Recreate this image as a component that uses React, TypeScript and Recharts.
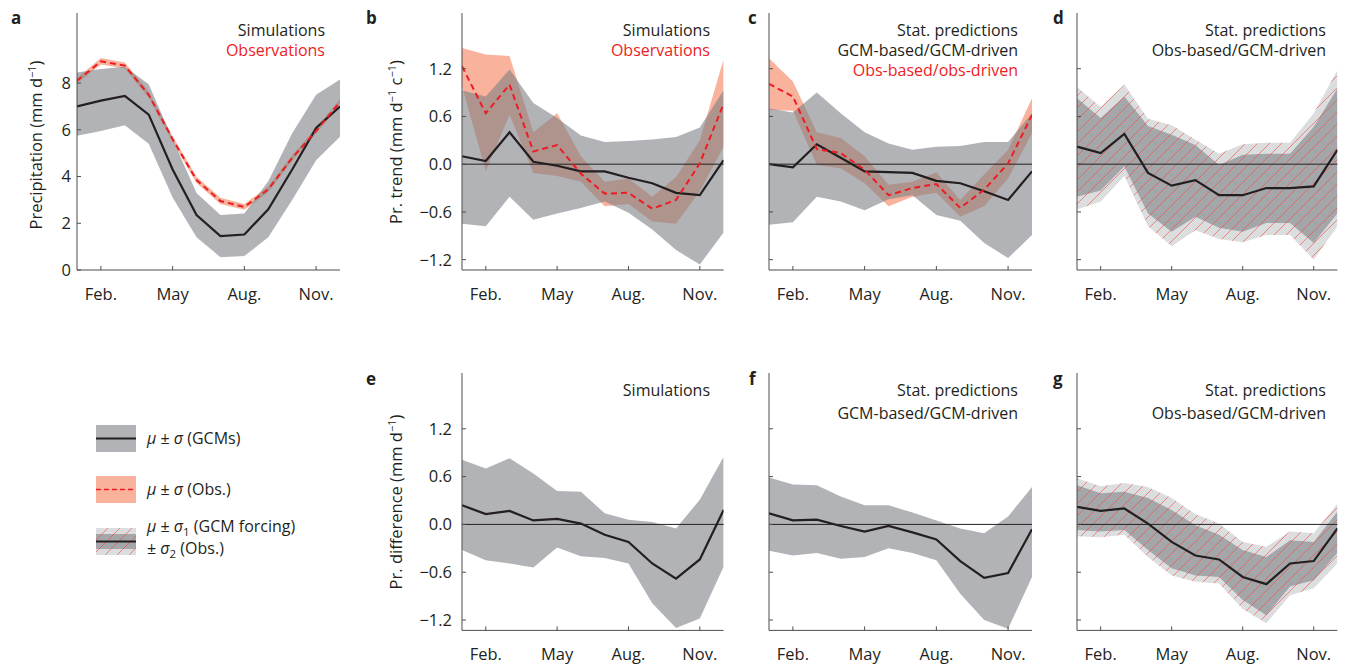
import React from 'react';
import { ComposedChart, Area, Line, XAxis, YAxis, ReferenceLine } from 'recharts';

const months = [1, 2, 3, 4, 5, 6, 7, 8, 9, 10, 11, 12];
const monthTicks = [2, 5, 8, 11];
const monthNames: Record<number, string> = { 2: 'Feb.', 5: 'May', 8: 'Aug.', 11: 'Nov.' };
const precipTicks = [0, 2, 4, 6, 8];
const trendTicks = [-1.2, -0.6, 0, 0.6, 1.2];

// a: climatology
const aSimMean = [7.0, 7.25, 7.45, 6.65, 4.3, 2.35, 1.45, 1.52, 2.6, 4.3, 6.08, 7.0];
const aSimHi = [8.45, 8.6, 8.7, 7.95, 5.6, 3.3, 2.35, 2.42, 3.8, 5.85, 7.5, 8.15];
const aSimLo = [5.75, 5.95, 6.2, 5.4, 3.1, 1.4, 0.55, 0.6, 1.4, 3.0, 4.7, 5.7];
const aObsMean = [8.1, 8.93, 8.75, 7.5, 5.6, 3.85, 2.95, 2.7, 3.45, 4.8, 5.95, 7.2];
const aObsHi = [8.22, 9.07, 8.88, 7.63, 5.73, 3.99, 3.09, 2.82, 3.57, 4.92, 6.07, 7.32];
const aObsLo = [7.98, 8.8, 8.62, 7.37, 5.47, 3.72, 2.82, 2.58, 3.33, 4.68, 5.83, 7.08];

// b: trends, simulations vs observations
const bSimMean = [0.1, 0.04, 0.4, 0.03, -0.02, -0.09, -0.09, -0.17, -0.24, -0.36, -0.39, 0.05];
const bSimHi = [0.93, 0.85, 1.19, 0.77, 0.58, 0.36, 0.28, 0.29, 0.31, 0.34, 0.46, 0.93];
const bSimLo = [-0.75, -0.78, -0.41, -0.7, -0.62, -0.55, -0.47, -0.61, -0.82, -1.08, -1.26, -0.86];
const bObsMean = [1.23, 0.64, 1.0, 0.16, 0.24, -0.12, -0.37, -0.36, -0.56, -0.45, 0.01, 0.76];
const bObsHi = [1.46, 1.38, 1.36, 0.4, 0.64, 0.1, -0.22, -0.18, -0.41, -0.16, 0.3, 1.32];
const bObsLo = [0.98, -0.09, 0.62, -0.11, -0.15, -0.22, -0.53, -0.5, -0.72, -0.75, -0.34, 0.22];

// c: trends, stat. predictions
const cSimMean = [0.0, -0.04, 0.25, 0.08, -0.09, -0.1, -0.11, -0.21, -0.24, -0.34, -0.45, -0.09];
const cSimHi = [0.7, 0.65, 0.9, 0.64, 0.4, 0.26, 0.18, 0.22, 0.23, 0.28, 0.28, 0.64];
const cSimLo = [-0.76, -0.73, -0.41, -0.47, -0.58, -0.44, -0.39, -0.64, -0.71, -0.99, -1.18, -0.89];
const cObsMean = [1.01, 0.85, 0.19, 0.14, -0.07, -0.39, -0.3, -0.25, -0.55, -0.32, 0.01, 0.62];
const cObsHi = [1.33, 1.04, 0.4, 0.33, 0.1, -0.26, -0.22, -0.1, -0.45, -0.13, 0.18, 0.83];
const cObsLo = [0.68, 0.67, -0.01, -0.05, -0.24, -0.53, -0.41, -0.36, -0.66, -0.53, -0.18, 0.39];

// d: trends, obs-based/GCM-driven
const dMean = [0.22, 0.14, 0.38, -0.11, -0.27, -0.2, -0.39, -0.39, -0.3, -0.3, -0.28, 0.18];
const dOuterHi = [0.97, 0.72, 1.0, 0.57, 0.49, 0.31, 0.13, 0.25, 0.27, 0.27, 0.64, 1.18];
const dOuterLo = [-0.57, -0.47, -0.15, -0.78, -1.03, -0.83, -0.94, -0.98, -0.89, -0.89, -1.2, -0.78];
const dInnerHi = [0.83, 0.58, 0.85, 0.48, 0.37, 0.24, -0.01, 0.12, 0.13, 0.13, 0.47, 0.95];
const dInnerLo = [-0.41, -0.33, -0.03, -0.62, -0.85, -0.66, -0.8, -0.85, -0.74, -0.74, -0.99, -0.62];

// e: differences, simulations
const eMean = [0.24, 0.13, 0.17, 0.05, 0.07, 0.01, -0.13, -0.22, -0.49, -0.68, -0.44, 0.18];
const eHi = [0.81, 0.7, 0.83, 0.64, 0.42, 0.41, 0.14, 0.06, 0.03, -0.05, 0.31, 0.85];
const eLo = [-0.32, -0.45, -0.49, -0.54, -0.29, -0.4, -0.42, -0.49, -0.99, -1.3, -1.18, -0.53];

// f: differences, GCM-based/GCM-driven
const fMean = [0.14, 0.05, 0.06, -0.02, -0.09, -0.02, -0.1, -0.19, -0.46, -0.67, -0.61, -0.06];
const fHi = [0.59, 0.5, 0.49, 0.35, 0.24, 0.24, 0.15, 0.05, -0.05, -0.11, 0.1, 0.47];
const fLo = [-0.33, -0.39, -0.36, -0.43, -0.41, -0.3, -0.36, -0.45, -0.87, -1.2, -1.31, -0.66];

// g: differences, obs-based/GCM-driven
const gMean = [0.22, 0.17, 0.2, 0.01, -0.22, -0.39, -0.44, -0.66, -0.75, -0.49, -0.46, -0.05];
const gOuterHi = [0.58, 0.48, 0.52, 0.47, 0.33, 0.13, 0.01, -0.22, -0.28, -0.09, -0.11, 0.26];
const gOuterLo = [-0.15, -0.16, -0.13, -0.41, -0.64, -0.72, -0.74, -1.06, -1.24, -0.89, -0.8, -0.49];
const gInnerHi = [0.49, 0.39, 0.41, 0.33, 0.18, -0.01, -0.13, -0.32, -0.41, -0.2, -0.22, 0.16];
const gInnerLo = [-0.07, -0.09, -0.07, -0.32, -0.55, -0.64, -0.66, -0.95, -1.14, -0.78, -0.7, -0.36];

const FONT = '"Open Sans", sans-serif';
const INK = '#231f20';
const FRAME = '#4d4d4f';
const GRAY = '#b1b3b6';
// translucent gray drawn over the salmon band: looks like GRAY on white
const GRAY_T = '#7d8085';
const DARK = '#a4a6a9';
const LIGHT = '#dcdddf';
const SALMON = '#f9b29c';
const RED = '#ed1c24';
const HATCH = '#ef4b36';

const bandRows = (mean: number[], lo: number[], hi: number[], oMean?: number[], oLo?: number[], oHi?: number[]) =>
  months.map((m, i) => ({
    m,
    mean: mean[i],
    band: [lo[i], hi[i]],
    obs: oMean ? oMean[i] : undefined,
    obsBand: oLo && oHi ? [oLo[i], oHi[i]] : undefined,
  }));

const hatchRows = (mean: number[], oLo: number[], oHi: number[], iLo: number[], iHi: number[]) =>
  months.map((m, i) => ({
    m,
    mean: mean[i],
    outerBand: [oLo[i], oHi[i]],
    innerBand: [iLo[i], iHi[i]],
  }));

const fmtTrend = (v: number) => (v === 0 ? '0.0' : (v < 0 ? '\u2212' : '') + Math.abs(v).toFixed(1));

const AX = 80;

// red diagonal hatching on a solid background, so both bands line up
const HatchDef = ({ id, bg }: { id: string; bg: string }) => (
  <pattern id={id} patternUnits="userSpaceOnUse" width="12" height="12">
    <rect x="0" y="0" width="12" height="12" fill={bg} />
    <path d="M-3,3 L3,-3 M0,12 L12,0 M9,15 L15,9" stroke={HATCH} strokeWidth={0.6} />
  </pattern>
);

type PanelProps = {
  id: string;
  left: number;
  top: number;
  width: number;
  height: number;
  rows: any[];
  kind: 'obs' | 'sim' | 'hatch';
  domain: [number, number];
  ticks: number[];
  labels: boolean;
  tickGap?: number;
  zero?: boolean;
};

const Panel = ({ id, left, top, width, height, rows, kind, domain, ticks, labels, tickGap = 14, zero = true }: PanelProps) => {
  const w = width + AX + 8;
  const h = height + 50;
  const tickStyle = { fill: INK, fontSize: 16.5, fontFamily: FONT };
  return (
    <div style={{ position: 'absolute', left: left - AX, top: top - 5, width: w, height: h }}>
      <ComposedChart width={w} height={h} data={rows} margin={{ top: 5, right: 8, bottom: 0, left: 0 }}>
        <defs>
          <HatchDef id={`hl-${id}`} bg={LIGHT} />
          <HatchDef id={`hd-${id}`} bg={DARK} />
        </defs>
        <XAxis
          dataKey="m"
          type="number"
          domain={[1, 12]}
          ticks={monthTicks}
          tickFormatter={(m) => monthNames[m] || ''}
          tickSize={-4}
          tickMargin={22}
          height={45}
          stroke={FRAME}
          tick={tickStyle}
          interval={0}
          allowDataOverflow
        />
        <XAxis xAxisId="top" orientation="top" type="number" domain={[1, 12]} height={0} tick={false} tickLine={false} stroke={FRAME} />
        <YAxis
          type="number"
          domain={domain}
          ticks={ticks}
          tickFormatter={(v) => (labels ? (domain[0] < 0 ? fmtTrend(v) : String(v)) : '')}
          tickSize={-4}
          tickMargin={tickGap}
          width={AX}
          stroke={FRAME}
          tick={tickStyle}
          interval={0}
          allowDataOverflow
        />
        <YAxis yAxisId="right" orientation="right" type="number" domain={domain} width={0} tick={false} tickLine={false} stroke={FRAME} />
        {kind === 'obs' && (
          <Area dataKey="obsBand" type="linear" stroke="none" fill={SALMON} fillOpacity={1} isAnimationActive={false} />
        )}
        {kind === 'obs' && (
          <Area dataKey="band" type="linear" stroke="none" fill={GRAY_T} fillOpacity={0.6} isAnimationActive={false} />
        )}
        {kind === 'sim' && (
          <Area dataKey="band" type="linear" stroke="none" fill={GRAY} fillOpacity={1} isAnimationActive={false} />
        )}
        {kind === 'hatch' && (
          <Area dataKey="outerBand" type="linear" stroke="none" fill={`url(#hl-${id})`} fillOpacity={1} isAnimationActive={false} />
        )}
        {kind === 'hatch' && (
          <Area dataKey="innerBand" type="linear" stroke="none" fill={`url(#hd-${id})`} fillOpacity={1} isAnimationActive={false} />
        )}
        {zero && <ReferenceLine y={0} stroke={INK} strokeWidth={1} />}
        <Line dataKey="mean" type="linear" stroke={INK} strokeWidth={2.2} dot={false} isAnimationActive={false} />
        {kind === 'obs' && (
          <Line dataKey="obs" type="linear" stroke={RED} strokeWidth={2} strokeDasharray="6 4" dot={false} isAnimationActive={false} />
        )}
      </ComposedChart>
    </div>
  );
};

const txt: React.CSSProperties = { position: 'absolute', fontFamily: FONT, fontSize: 16, color: INK, whiteSpace: 'nowrap' };

const Notes = ({ right, top, gap, lines }: { right: number; top: number; gap: number; lines: { t: string; c?: string }[] }) => (
  <div style={{ ...txt, left: right - 400, top: top - gap / 2, width: 400, textAlign: 'right', lineHeight: `${gap}px` }}>
    {lines.map((l, i) => (
      <div key={i} style={{ color: l.c || INK }}>{l.t}</div>
    ))}
  </div>
);

const Letter = ({ x, y, t }: { x: number; y: number; t: string }) => (
  <div style={{ ...txt, left: x, top: y - 12, fontWeight: 700, fontSize: 17, lineHeight: '24px' }}>{t}</div>
);

const YTitle = ({ x, y, children }: { x: number; y: number; children: React.ReactNode }) => (
  <div style={{ ...txt, fontSize: 16.5, left: x, top: y, transform: 'translate(-50%, -50%) rotate(-90deg)', lineHeight: '20px' }}>
    {children}
  </div>
);

const sup = { fontSize: 11, position: 'relative', top: -6 } as React.CSSProperties;
const sub = { fontSize: 11.5, position: 'relative', top: 4 } as React.CSSProperties;
const it = { fontStyle: 'italic' } as React.CSSProperties;

const Swatch = ({ kind }: { kind: 'gcm' | 'obs' | 'hatch' }) => (
  <svg width={40} height={27} style={{ display: 'block' }}>
    <defs>
      <HatchDef id={`hl-legend-${kind}`} bg={LIGHT} />
      <HatchDef id={`hd-legend-${kind}`} bg={DARK} />
    </defs>
    {kind === 'gcm' && <rect x={0} y={0} width={40} height={27} fill={GRAY} />}
    {kind === 'gcm' && <line x1={0} x2={40} y1={13.5} y2={13.5} stroke={INK} strokeWidth={2} />}
    {kind === 'obs' && <rect x={0} y={0} width={40} height={27} fill={SALMON} />}
    {kind === 'obs' && <line x1={0} x2={40} y1={13.5} y2={13.5} stroke={RED} strokeWidth={1.5} strokeDasharray="5 3" />}
    {kind === 'hatch' && <rect x={0} y={0} width={40} height={27} fill={`url(#hl-legend-${kind})`} />}
    {kind === 'hatch' && <rect x={0} y={6} width={40} height={15} fill={`url(#hd-legend-${kind})`} />}
    {kind === 'hatch' && <line x1={0} x2={40} y1={13.5} y2={13.5} stroke={INK} strokeWidth={2} />}
  </svg>
);

const TOP1 = 13;
const TOP2 = 373.3;
const H1 = 257;
const H2 = 257.4;

export default function App() {
  const pa = bandRows(aSimMean, aSimLo, aSimHi, aObsMean, aObsLo, aObsHi);
  const pb = bandRows(bSimMean, bSimLo, bSimHi, bObsMean, bObsLo, bObsHi);
  const pc = bandRows(cSimMean, cSimLo, cSimHi, cObsMean, cObsLo, cObsHi);
  const pd = hatchRows(dMean, dOuterLo, dOuterHi, dInnerLo, dInnerHi);
  const pe = bandRows(eMean, eLo, eHi);
  const pf = bandRows(fMean, fLo, fHi);
  const pg = hatchRows(gMean, gOuterLo, gOuterHi, gInnerLo, gInnerHi);
  const trendDomain: [number, number] = [-1.33, 1.9];

  return (
    <div style={{ position: 'absolute', left: 0, top: 0, width: 1347, height: 667, background: '#fff', overflow: 'hidden' }}>
      <Panel id="a" left={77} top={TOP1} width={263} height={H1} rows={pa} kind="obs" domain={[0, 11]} ticks={precipTicks} labels tickGap={10} zero={false} />
      <Panel id="b" left={461.7} top={TOP1} width={261.6} height={H1} rows={pb} kind="obs" domain={trendDomain} ticks={trendTicks} labels />
      <Panel id="c" left={769.3} top={TOP1} width={263} height={H1} rows={pc} kind="obs" domain={trendDomain} ticks={trendTicks} labels={false} />
      <Panel id="d" left={1077.3} top={TOP1} width={260.4} height={H1} rows={pd} kind="hatch" domain={trendDomain} ticks={trendTicks} labels={false} />
      <Panel id="e" left={461.7} top={TOP2} width={261.6} height={H2} rows={pe} kind="sim" domain={trendDomain} ticks={trendTicks} labels />
      <Panel id="f" left={769.3} top={TOP2} width={263} height={H2} rows={pf} kind="sim" domain={trendDomain} ticks={trendTicks} labels={false} />
      <Panel id="g" left={1077.3} top={TOP2} width={260.4} height={H2} rows={pg} kind="hatch" domain={trendDomain} ticks={trendTicks} labels={false} />

      <Letter x={11} y={18} t="a" />
      <Letter x={366} y={18} t="b" />
      <Letter x={748} y={18} t="c" />
      <Letter x={1053} y={18} t="d" />
      <Letter x={366} y={379} t="e" />
      <Letter x={749} y={379} t="f" />
      <Letter x={1053} y={379} t="g" />

      <Notes right={325} top={30} gap={20} lines={[{ t: 'Simulations' }, { t: 'Observations', c: RED }]} />
      <Notes right={710} top={30} gap={20} lines={[{ t: 'Simulations' }, { t: 'Observations', c: RED }]} />
      <Notes right={1018} top={30} gap={20} lines={[{ t: 'Stat. predictions' }, { t: 'GCM-based/GCM-driven' }, { t: 'Obs-based/obs-driven', c: RED }]} />
      <Notes right={1326} top={30} gap={20} lines={[{ t: 'Stat. predictions' }, { t: 'Obs-based/GCM-driven' }]} />
      <Notes right={710} top={390} gap={23} lines={[{ t: 'Simulations' }]} />
      <Notes right={1018} top={390} gap={23} lines={[{ t: 'Stat. predictions' }, { t: 'GCM-based/GCM-driven' }]} />
      <Notes right={1326} top={390} gap={23} lines={[{ t: 'Stat. predictions' }, { t: 'Obs-based/GCM-driven' }]} />

      <YTitle x={37} y={145}>
        Precipitation (mm d<span style={sup}>{'\u2212'}1</span>)
      </YTitle>
      <YTitle x={397} y={142}>
        Pr. trend (mm d<span style={sup}>{'\u2212'}1</span> c<span style={sup}>{'\u2212'}1</span>)
      </YTitle>
      <YTitle x={397} y={502}>
        Pr. difference (mm d<span style={sup}>{'\u2212'}1</span>)
      </YTitle>

      <div style={{ position: 'absolute', left: 96, top: 425 }}>
        <Swatch kind="gcm" />
      </div>
      <div style={{ ...txt, left: 147, top: 428, lineHeight: '20px' }}>
        <span style={it}>{'\u03bc'}</span> {'\u00b1'} <span style={it}>{'\u03c3'}</span> (GCMs)
      </div>
      <div style={{ position: 'absolute', left: 96, top: 476 }}>
        <Swatch kind="obs" />
      </div>
      <div style={{ ...txt, left: 147, top: 479, lineHeight: '20px' }}>
        <span style={it}>{'\u03bc'}</span> {'\u00b1'} <span style={it}>{'\u03c3'}</span> (Obs.)
      </div>
      <div style={{ position: 'absolute', left: 96, top: 528 }}>
        <Swatch kind="hatch" />
      </div>
      <div style={{ ...txt, left: 147, top: 516, lineHeight: '21px' }}>
        <div>
          <span style={it}>{'\u03bc'}</span> {'\u00b1'} <span style={it}>{'\u03c3'}</span>
          <span style={sub}>1</span> (GCM forcing)
        </div>
        <div>
          {'\u00b1'} <span style={it}>{'\u03c3'}</span>
          <span style={sub}>2</span> (Obs.)
        </div>
      </div>
    </div>
  );
}
